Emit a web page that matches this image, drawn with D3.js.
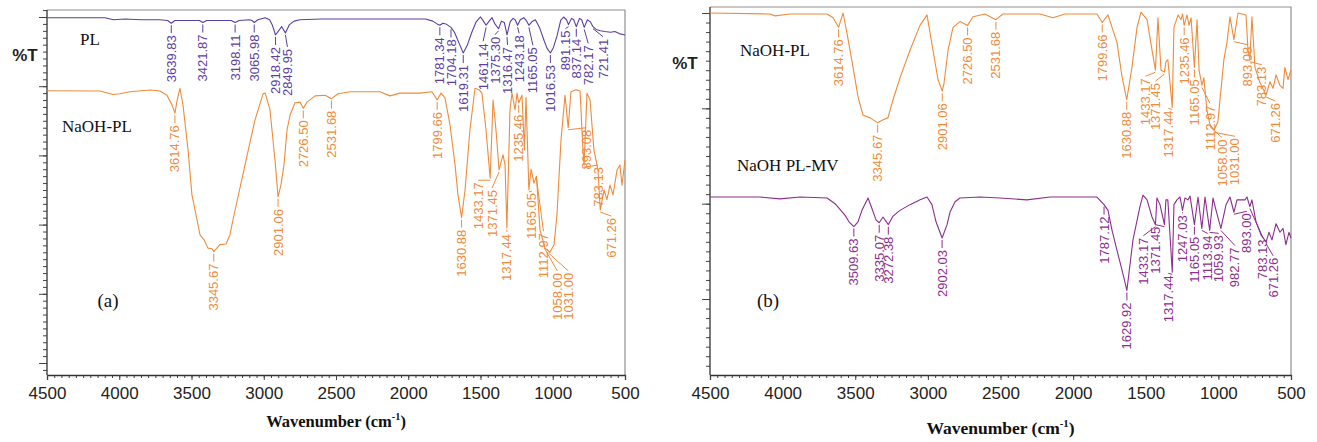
<!DOCTYPE html>
<html>
<head>
<meta charset="utf-8">
<script src="https://cdn.jsdelivr.net/npm/d3@7"></script>
<style>
  html, body { margin: 0; padding: 0; background: #fff; }
  svg { display: block; }
</style>
</head>
<body>
<svg id="chart" width="1317" height="442"></svg>
<script>
// ---------- data: FTIR spectra, [wavenumber (cm-1), transmittance (offset, a.u.)] ----------
const xTickValues = [4500, 4000, 3500, 3000, 2500, 2000, 1500, 1000, 500];

// panel (a): PL
const spectrumPL = [
  [4500, 49.9], [4300, 49.9], [4100, 49.9], [4040, 49.6], [3960, 49.7], [3850, 49.6], [3720, 49.6],
  [3665, 49.5], [3639.83, 49.1], [3615, 49.5], [3520, 49.5], [3445, 49.5], [3421.87, 49.2], [3395, 49.5],
  [3300, 49.5], [3225, 49.5], [3198.11, 49.2], [3170, 49.5], [3100, 49.6], [3082, 49.5], [3065.98, 49.2],
  [3040, 49.6], [2990, 49.9], [2960, 49.6], [2940, 48.8], [2918.42, 47.4], [2876, 48.6], [2849.95, 47.7],
  [2822, 48.9], [2790, 49.4], [2750, 49.6], [2600, 49.7], [2400, 49.7], [2200, 49.7], [2000, 49.7],
  [1880, 49.7], [1830, 49.4], [1800, 49.0], [1781.34, 48.8], [1760, 49.1], [1740, 49.0], [1704.18, 48.5],
  [1680, 47.8], [1650, 46.3], [1619.31, 44.8], [1590, 46.0], [1560, 47.8], [1530, 49.3], [1500, 50.0],
  [1480, 49.4], [1461.14, 48.8], [1440, 49.4], [1420, 49.9], [1400, 49.0], [1375.30, 48.3], [1355, 49.4],
  [1335, 49.2], [1316.47, 47.4], [1295, 49.3], [1275, 49.8], [1260, 49.6], [1243.18, 48.8], [1225, 49.6],
  [1200, 49.9], [1180, 49.4], [1165.05, 48.8], [1145, 49.3], [1120, 49.6], [1090, 48.4], [1060, 46.6],
  [1040, 45.5], [1016.53, 44.8], [995, 45.6], [970, 47.3], [945, 49.5], [925, 50.0], [905, 49.6],
  [891.15, 48.9], [870, 49.8], [855, 49.6], [837.14, 48.6], [815, 49.8], [800, 49.6], [782.17, 48.5],
  [760, 49.6], [740, 49.3], [721.41, 48.6], [700, 48.2], [670, 48.0], [640, 47.9], [600, 47.8],
  [570, 47.9], [540, 47.6], [500, 47.4]
];

// panel (a): NaOH-PL
const spectrumNaOHPL_a = [
  [4500, 39.35], [4133, 39.3], [4043, 38.8], [3995, 38.9], [3926, 39.2], [3787, 39.45], [3718, 39.3],
  [3670, 38.7], [3635, 37.3], [3614.76, 36.1], [3600, 37.9], [3580, 39.7], [3559, 37.3], [3524, 30.8],
  [3497, 24.3], [3462, 20.7], [3441, 18.5], [3413, 17.8], [3386, 16.6], [3358, 16.5], [3345.67, 16.1],
  [3303, 17.1], [3261, 17.2], [3234, 18.5], [3213, 20.7], [3130, 28.6], [3061, 35.1], [3005, 38.9],
  [2990, 39.0], [2957, 36.6], [2922, 29.3], [2901.06, 24.0], [2881, 25.7], [2860, 28.6], [2839, 33.7],
  [2818, 35.8], [2784, 37.6], [2749, 37.7], [2726.50, 36.8], [2701, 37.7], [2645, 38.6], [2576, 38.7],
  [2531.68, 38.2], [2486, 38.9], [2403, 39.2], [2196, 39.2], [2126, 38.6], [2057, 39.0], [1919, 39.0],
  [1836, 39.2], [1799.66, 38.0], [1773, 39.0], [1746, 38.3], [1711, 34.4], [1676, 28.6], [1656, 24.3],
  [1630.88, 21.0], [1607, 25.0], [1573, 33.7], [1538, 39.7], [1510, 39.5], [1490, 39.0], [1462, 33.7],
  [1433.17, 26.7], [1413, 38.0], [1393, 33.7], [1371.45, 27.9], [1344, 30.1], [1330, 28.6], [1317.44, 19.5],
  [1296, 36.6], [1282, 39.0], [1261, 36.6], [1247, 39.0], [1235.46, 37.6], [1213, 38.7], [1196, 30.8],
  [1185, 38.4], [1165.05, 25.0], [1150, 28.0], [1130, 26.0], [1112.97, 27.0], [1088, 19.2], [1054, 16.6],
  [1019, 16.0], [991, 17.1], [971, 21.4], [943, 32.2], [915, 38.7], [893.08, 34.0], [874, 39.2],
  [839, 39.5], [811, 39.3], [791, 30.8], [783.13, 28.6], [763, 39.0], [742, 38.0], [715, 30.8],
  [687, 27.9], [671.26, 22.1], [645, 25.0], [625, 23.6], [604, 25.7], [583, 24.3], [555, 27.9],
  [535, 28.6], [521, 25.7], [500, 29.3]
];

// panel (b): NaOH-PL
const spectrumNaOHPL_b = [
  [4500, 30.0], [4087, 29.9], [4052, 29.7], [3949, 29.9], [3694, 29.9], [3653, 29.5], [3614.76, 28.5],
  [3584, 30.0], [3557, 27.9], [3515, 24.3], [3481, 21.2], [3447, 19.3], [3398, 19.0], [3345.67, 18.5],
  [3309, 18.8], [3275, 19.0], [3240, 20.9], [3192, 23.2], [3123, 26.1], [3054, 28.7], [3006, 29.8],
  [2965, 26.1], [2930, 23.0], [2901.06, 21.8], [2889, 22.6], [2861, 26.1], [2827, 28.5], [2779, 29.1],
  [2726.50, 28.7], [2689, 29.6], [2607, 29.9], [2531.68, 29.3], [2483, 29.9], [2228, 29.9], [2139, 29.5],
  [2056, 29.9], [1836, 29.9], [1799.66, 29.0], [1760, 29.8], [1698, 26.9], [1663, 23.3], [1630.88, 20.9],
  [1595, 24.3], [1560, 28.5], [1533, 30.1], [1491, 29.3], [1457, 26.1], [1433.17, 24.0], [1416, 29.5],
  [1395, 24.0], [1371.45, 23.8], [1361, 24.9], [1348, 25.1], [1317.44, 20.1], [1306, 28.5], [1277, 29.8],
  [1257, 29.3], [1246, 29.9], [1235.46, 28.7], [1216, 29.8], [1202, 28.7], [1188, 29.5], [1165.05, 24.3],
  [1147, 29.3], [1133, 24.0], [1112.97, 22.4], [1100, 23.2], [1079, 19.8], [1058.00, 18.3], [1031.00, 17.7],
  [1003, 18.6], [989, 20.9], [962, 25.1], [941, 26.9], [920, 29.6], [893.08, 27.2], [865, 30.0],
  [810, 29.8], [796, 26.1], [783.13, 25.1], [769, 29.6], [748, 24.3], [714, 22.7], [671.26, 21.4],
  [645, 22.8], [624, 22.1], [603, 23.5], [576, 22.4], [555, 22.1], [542, 24.3], [521, 23.0], [500, 24.0]
];

// panel (b): NaOH PL-MV
const spectrumNaOHPLMV = [
  [4500, 10.7], [4156, 10.7], [4018, 10.5], [3880, 10.7], [3694, 10.6], [3639, 10.0], [3571, 8.8],
  [3543, 8.1], [3509.63, 7.6], [3481, 8.1], [3454, 9.3], [3412, 10.6], [3385, 9.5], [3357, 8.3],
  [3335.07, 8.0], [3309, 8.6], [3272.38, 7.8], [3240, 8.7], [3192, 9.3], [3123, 9.9], [3054, 10.4],
  [3006, 10.7], [2972, 9.9], [2944, 8.1], [2902.03, 6.4], [2868, 7.8], [2848, 9.1], [2813, 10.2],
  [2779, 10.6], [2641, 10.7], [2503, 10.6], [2318, 10.4], [2159, 10.7], [1836, 10.7], [1787.12, 9.9],
  [1760, 9.3], [1732, 7.2], [1698, 5.1], [1663, 3.0], [1629.92, 0.9], [1588, 6.2], [1540, 9.7],
  [1519, 10.9], [1491, 10.4], [1457, 8.6], [1433.17, 7.8], [1423, 10.6], [1402, 9.9], [1371.45, 7.8],
  [1361, 10.4], [1348, 10.4], [1317.44, 2.8], [1306, 9.9], [1285, 10.4], [1264, 10.7], [1247.03, 9.3],
  [1230, 10.6], [1209, 10.4], [1195, 10.8], [1165.05, 7.8], [1140, 10.7], [1113.94, 7.4], [1092, 10.7],
  [1059.93, 7.2], [1037, 10.6], [1016, 9.3], [982.77, 7.4], [947, 9.9], [920, 10.7], [893.00, 9.1],
  [872, 10.4], [817, 10.4], [803, 10.7], [783.13, 9.7], [769, 10.4], [741, 8.1], [706, 6.7],
  [671.26, 6.0], [652, 7.0], [631, 6.2], [603, 7.9], [576, 7.0], [555, 7.4], [535, 5.7], [514, 7.0],
  [500, 6.4]
];

// labelled band positions (cm-1)
const peaksPL = [3639.83, 3421.87, 3198.11, 3065.98, 2918.42, 2849.95, 1781.34, 1704.18, 1619.31,
  1461.14, 1375.30, 1316.47, 1243.18, 1165.05, 1016.53, 891.15, 837.14, 782.17, 721.41];
const peaksNaOHPL = [3614.76, 3345.67, 2901.06, 2726.50, 2531.68, 1799.66, 1630.88, 1433.17, 1371.45,
  1317.44, 1235.46, 1165.05, 1112.97, 1058.00, 1031.00, 893.08, 783.13, 671.26];
const peaksNaOHPLMV = [3509.63, 3335.07, 3272.38, 2902.03, 1787.12, 1629.92, 1433.17, 1371.45, 1317.44,
  1247.03, 1165.05, 1113.94, 1059.93, 982.77, 893.00, 783.13, 671.26];

// ---------- layout ----------
const ORANGE = "#ef8b3a";
const VIOLET = "#5b3f9f";
const PLUM = "#8b2e8e";

// pixel nudges for crowded band labels [dx, dy]
const nudgeA_PL = { "1461.14": [-3, 6], "1375.30": [-3.5, -4], "1316.47": [0.5, 0], "1243.18": [1.5, -2],
  "1165.05": [4, 10], "891.15": [-3, -6], "782.17": [4, 6], "721.41": [10, 0], "2849.95": [2, 4] };
const nudgeA_NaOH = { "1433.17": [-12, -8], "1371.45": [-7, 8], "1317.44": [0, -6], "1165.05": [3, -9],
  "1112.97": [7, 45], "1058.00": [13, 15], "1031.00": [20, 10], "893.08": [18, -10], "783.13": [14, -10],
  "671.26": [11, -4] };
const nudgeB_NaOH = { "1433.17": [-10, -4], "1371.45": [-9, -1], "1317.44": [-4, -9], "1112.97": [8, 8],
  "1058.00": [12, 3], "1031.00": [21, -4], "893.08": [14, -5], "783.13": [12, -5], "671.26": [9, -4] };
const nudgeB_MV = { "1433.17": [-12, 1], "1371.45": [-9, -10], "1317.44": [-4, -9], "1247.03": [0, -7],
  "1113.94": [6, -5], "1059.93": [9, -7], "982.77": [14, 7], "893.00": [13, -11], "783.13": [13, 21],
  "671.26": [7, 4] };

const panels = [
  {
    left: 47, right: 625, top: 10, bottom: 375, yDomain: [-1.734, 51.01],
    tag: "(a)", tagX: 108, tagY: 307, pctX: 25, pctY: 61, titleY: 427, titleSize: 16.5,
    series: [
      { data: spectrumPL, color: VIOLET, peaks: peaksPL, nudge: nudgeA_PL, name: "PL", nameX: 80, nameY: 45 },
      { data: spectrumNaOHPL_a, color: ORANGE, peaks: peaksNaOHPL, nudge: nudgeA_NaOH, name: "NaOH-PL", nameX: 62, nameY: 132 }
    ]
  },
  {
    left: 710, right: 1291, top: 7, bottom: 375, yDomain: [-7.97, 30.63],
    tag: "(b)", tagX: 768, tagY: 307, pctX: 685, pctY: 69, titleY: 434, titleSize: 17.5,
    series: [
      { data: spectrumNaOHPL_b, color: ORANGE, peaks: peaksNaOHPL, nudge: nudgeB_NaOH, name: "NaOH-PL", nameX: 740, nameY: 56 },
      { data: spectrumNaOHPLMV, color: PLUM, peaks: peaksNaOHPLMV, nudge: nudgeB_MV, name: "NaOH PL-MV", nameX: 737, nameY: 171 }
    ]
  }
];

const svg = d3.select("#chart");
const SANS = "'Liberation Sans', Arial, sans-serif";
const SERIF = "'Liberation Serif', 'Times New Roman', serif";

function valueAt(series, wn) {
  for (let i = 0; i < series.length - 1; i++) {
    const [w0, v0] = series[i], [w1, v1] = series[i + 1];
    if (wn <= w0 && wn >= w1) {
      const t = (w0 - wn) / (w0 - w1);
      return v0 + t * (v1 - v0);
    }
  }
  return series[series.length - 1][1];
}

function drawPanel(p) {
  const g = svg.append("g");
  const x = d3.scaleLinear().domain([4500, 500]).range([p.left, p.right]);
  const y = d3.scaleLinear().domain(p.yDomain).range([p.bottom, p.top]);

  // frame (top and right edges)
  g.append("path")
    .attr("d", `M${p.left},${p.top}H${p.right}V${p.bottom}`)
    .attr("fill", "none").attr("stroke", "#8f8f8f").attr("stroke-width", 1.2);

  // y axis: unlabelled, minor every unit, major every 10
  const yMinor = d3.range(Math.ceil(p.yDomain[0]), Math.floor(p.yDomain[1]) + 1);
  const yMajor = yMinor.filter(v => v % 10 === 0);
  const yAxisMinor = g.append("g").attr("transform", `translate(${p.left},0)`)
    .call(d3.axisLeft(y).tickValues(yMinor).tickSize(4).tickFormat(""));
  yAxisMinor.select(".domain").remove();
  const yAxisMajor = g.append("g").attr("transform", `translate(${p.left},0)`)
    .call(d3.axisLeft(y).tickValues(yMajor).tickSize(8).tickFormat(""));
  yAxisMajor.select(".domain").remove();
  g.append("line").attr("x1", p.left).attr("x2", p.left).attr("y1", p.top).attr("y2", p.bottom)
    .attr("stroke", "#333").attr("stroke-width", 1.3);

  // x axis: labelled every 500, minor every 50
  const xMinor = d3.range(500, 4501, 50);
  const xAxisMinor = g.append("g").attr("transform", `translate(0,${p.bottom})`)
    .call(d3.axisBottom(x).tickValues(xMinor).tickSize(3).tickFormat(""));
  xAxisMinor.select(".domain").remove();
  const xAxis = g.append("g").attr("transform", `translate(0,${p.bottom})`)
    .call(d3.axisBottom(x).tickValues(xTickValues).tickSize(5).tickPadding(7).tickFormat(d3.format("d")));
  xAxis.select(".domain").attr("stroke", "#333").attr("stroke-width", 1.3);
  xAxis.selectAll("text").attr("font-family", SANS).attr("font-size", 17).attr("fill", "#222");
  g.selectAll(".tick line").attr("stroke", "#444");

  // axis title
  const title = g.append("text")
    .attr("x", (p.left + p.right) / 2).attr("y", p.titleY)
    .attr("text-anchor", "middle")
    .attr("font-family", SERIF).attr("font-weight", "bold").attr("font-size", p.titleSize).attr("fill", "#111");
  title.append("tspan").text("Wavenumber (cm");
  title.append("tspan").attr("font-size", p.titleSize * 0.62).attr("dy", -p.titleSize * 0.4).text("-1");
  title.append("tspan").attr("dy", p.titleSize * 0.4).text(")");

  // %T
  g.append("text").attr("x", p.pctX).attr("y", p.pctY).attr("text-anchor", "middle")
    .attr("font-family", SANS).attr("font-weight", "bold").attr("font-size", 17).attr("fill", "#222")
    .text("%T");

  // panel tag
  g.append("text").attr("x", p.tagX).attr("y", p.tagY).attr("text-anchor", "middle")
    .attr("font-family", SERIF).attr("font-size", 19).attr("fill", "#111").text(p.tag);

  const line = d3.line().x(d => x(d[0])).y(d => y(d[1]));

  p.series.forEach(s => {
    g.append("path").datum(s.data)
      .attr("d", line)
      .attr("fill", "none").attr("stroke", s.color).attr("stroke-width", 1.1)
      .attr("stroke-linejoin", "round");

    g.append("text").attr("x", s.nameX).attr("y", s.nameY)
      .attr("font-family", SERIF).attr("font-size", 17).attr("fill", "#111").text(s.name);

    // band labels with short leaders
    const lab = g.append("g");
    s.peaks.forEach(wn => {
      const txt = wn.toFixed(2);
      const xd = x(wn), yd = y(valueAt(s.data, wn));
      const [dx, dy] = s.nudge[txt] || [0, 0];
      const xl = xd + dx, topY = yd + 12 + dy;
      lab.append("line")
        .attr("x1", xd).attr("y1", yd + 2).attr("x2", xl).attr("y2", topY - 2)
        .attr("stroke", s.color).attr("stroke-width", 1);
      lab.append("text")
        .attr("transform", `translate(${xl},${topY}) rotate(-90)`)
        .attr("text-anchor", "end").attr("dy", "0.35em")
        .attr("font-family", SANS).attr("font-size", 13).attr("fill", s.color)
        .text(txt);
    });
  });
}

panels.forEach(drawPanel);
</script>
</body>
</html>
